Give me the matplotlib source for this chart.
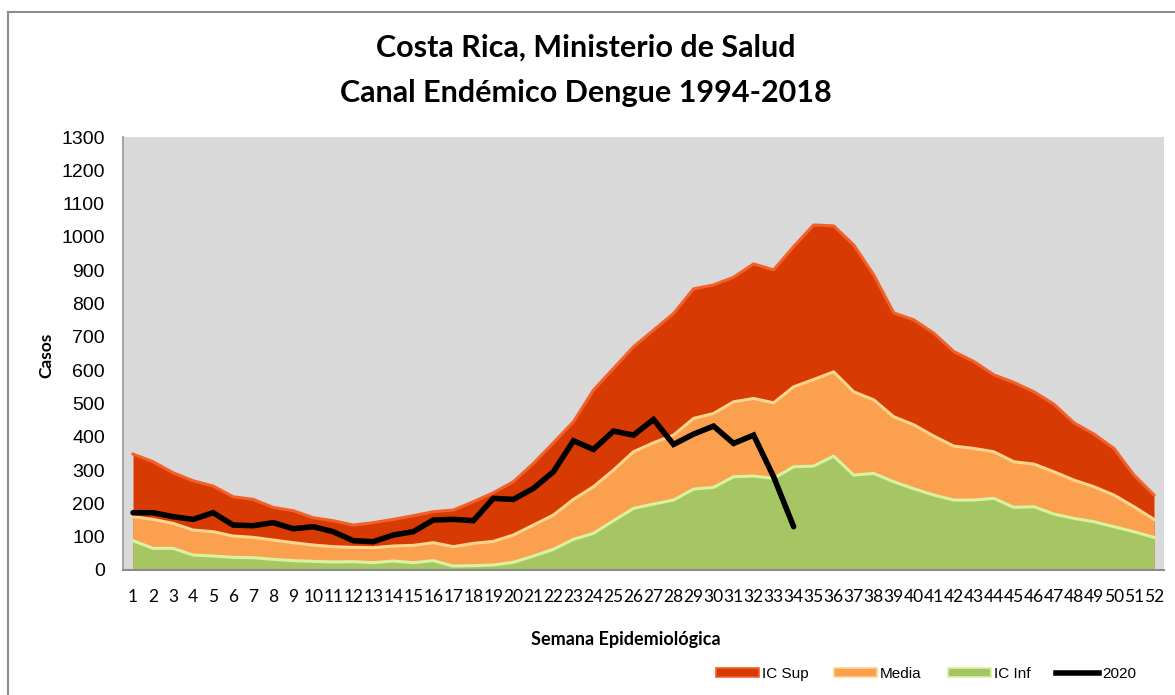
import matplotlib
matplotlib.use('Agg')
import matplotlib.pyplot as plt
from matplotlib.patches import Patch
from matplotlib.lines import Line2D
import numpy as np

# semanas epidemiologicas
weeks = np.arange(1, 53)

ic_sup = [348, 325, 292, 268, 252, 220, 212, 188, 178, 157,
          148, 135, 142, 152, 163, 175, 180, 205, 232, 265,
          320, 382, 445, 540, 605, 670, 720, 770, 844, 856,
          879, 919, 901, 971, 1036, 1033, 976, 886, 772, 751,
          711, 656, 626, 586, 563, 535, 498, 442, 408, 365,
          285, 225]

media = [160, 152, 140, 120, 115, 102, 98, 90, 82, 75,
         70, 68, 67, 72, 74, 82, 70, 80, 86, 105,
         135, 165, 212, 250, 300, 355, 382, 405, 455, 470,
         505, 515, 502, 550, 572, 595, 535, 511, 460, 436,
         402, 372, 365, 355, 325, 318, 295, 270, 250, 225,
         190, 152]

ic_inf = [88, 65, 65, 45, 42, 38, 37, 32, 28, 26,
          24, 25, 22, 27, 22, 28, 12, 13, 15, 23,
          42, 62, 92, 110, 148, 185, 198, 210, 243, 248,
          280, 282, 275, 310, 312, 342, 285, 290, 265, 244,
          225, 210, 210, 215, 188, 190, 168, 155, 145, 130,
          115, 98]

# casos 2020 (hasta semana 34)
cases_2020 = [172, 172, 160, 152, 172, 135, 133, 142, 124, 130,
              115, 88, 85, 105, 115, 150, 152, 148, 215, 212,
              245, 295, 388, 362, 417, 405, 452, 377, 408, 432,
              380, 405, 280, 130]

yticks = list(range(0, 1301, 100))

fig = plt.figure(figsize=(11.75, 6.95), dpi=100)
ax = fig.add_axes([123/1175, 1 - 570/695, (1164 - 123)/1175, (570 - 137)/695])
ax.set_facecolor('#D9D9D9')

# areas superpuestas (desde cero), con borde claro arriba para imitar el bisel
areas = [(ic_sup, '#D83A04', '#F2612A'),
         (media, '#FBA04E', '#FDD58C'),
         (ic_inf, '#A6C664', '#D8F2A2')]
for vals, col, edge in areas:
    ax.fill_between(weeks, 0, vals, color=col, linewidth=0, zorder=2)
    ax.plot(weeks, vals, color=edge, lw=2.2, zorder=3, solid_joinstyle='round')

ax.plot(weeks[:len(cases_2020)], cases_2020, color='black', lw=4,
        solid_capstyle='round', solid_joinstyle='miter', zorder=5)

ax.set_xlim(0.5, 52.5)
ax.set_ylim(0, 1300)
ax.set_yticks(yticks)
ax.set_yticklabels([str(t) for t in yticks], fontsize=14, family='Liberation Sans')
ax.set_xticks(weeks)
ax.set_xticklabels([str(w) for w in weeks], fontsize=12.5, family='Lato')
ax.tick_params(axis='y', length=0, pad=13)
ax.tick_params(axis='x', length=0, pad=14)
for s in ['top', 'right']:
    ax.spines[s].set_visible(False)
ax.spines['left'].set_color('#A6A6A6')
ax.spines['bottom'].set_color('#8C8C8C')
ax.spines['left'].set_linewidth(1.5)
ax.spines['bottom'].set_linewidth(1.5)

fig.text(586/1175, 1 - 48/695, 'Costa Rica, Ministerio de Salud', ha='center', va='center',
         fontsize=22, fontweight='bold', family='Lato')
fig.text(586/1175, 1 - 93/695, 'Canal Endémico Dengue 1994-2018', ha='center', va='center',
         fontsize=22, fontweight='bold', family='Lato')
fig.text(46/1175, 1 - 355/695, 'Casos', rotation=90, ha='center', va='center',
         fontsize=12.5, fontweight='bold', family='Lato')
fig.text(626/1175, 1 - 640/695, 'Semana Epidemiológica', ha='center', va='center',
         fontsize=13, fontweight='bold', family='Lato')

# marco del grafico
fig.add_artist(Line2D([7.5/1175, 7.5/1175], [0, 1 - 12/695], color='#8C8C8C', lw=1.5))
fig.add_artist(Line2D([7.5/1175, 1], [1 - 12/695, 1 - 12/695], color='#8C8C8C', lw=1.5))

handles = [Patch(facecolor='#D83A04', edgecolor='#F2612A', lw=1.2, label='IC Sup'),
           Patch(facecolor='#FBA04E', edgecolor='#FDD58C', lw=1.2, label='Media'),
           Patch(facecolor='#A6C664', edgecolor='#D8F2A2', lw=1.2, label='IC Inf'),
           Line2D([0], [0], color='black', lw=4, label='2020')]
fig.legend(handles=handles, loc='center', bbox_to_anchor=(926/1175, 1 - 674/695), ncol=4,
           frameon=False, prop={'family': 'Liberation Sans', 'size': 11},
           handlelength=2.8, handleheight=0.45, handletextpad=0.2, columnspacing=1.7)

plt.savefig('out.png', dpi=100)
